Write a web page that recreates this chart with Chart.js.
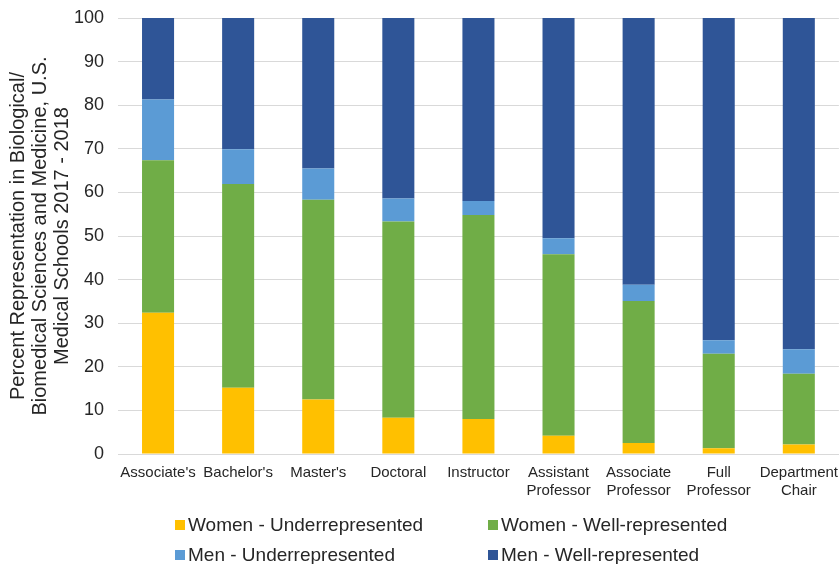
<!DOCTYPE html>
<html>
<head>
<meta charset="utf-8">
<script src="https://cdn.jsdelivr.net/npm/chart.js@4"></script>
<style>
  html, body { margin: 0; padding: 0; background: #fff; }
  #wrap { position: relative; width: 840px; height: 564px; overflow: hidden; }
  #legend { position: absolute; left: 175px; top: 514px; width: 640px; font-family: "Liberation Sans", Arial, sans-serif; font-size: 19px; color: #262626; }
  .item { position: absolute; display: flex; align-items: center; white-space: nowrap; }
  .box { width: 10px; height: 10px; margin-right: 3px; }
</style>
</head>
<body>
<div id="wrap">
  <canvas id="chart" width="840" height="564"></canvas>
  <div id="legend"></div>
</div>
<script>
const categories = [
  "Associate's", "Bachelor's", "Master's", "Doctoral", "Instructor",
  ["Assistant", "Professor"], ["Associate", "Professor"], ["Full", "Professor"], ["Department", "Chair"]
];
const seriesNames = ["Women - Underrepresented", "Women - Well-represented", "Men - Underrepresented", "Men - Well-represented"];
const womenUnder = [32.4, 15.2, 12.5, 8.3, 8.0, 4.2, 2.5, 1.3, 2.2];
const womenWell = [35.0, 46.7, 45.8, 45.0, 46.8, 41.6, 32.6, 21.7, 16.2];
const menUnder = [13.9, 8.0, 7.2, 5.3, 3.2, 3.7, 3.7, 3.1, 5.6];
const menWell = [18.7, 30.1, 34.5, 41.4, 42.0, 50.5, 61.2, 73.9, 76.0];
const colors = ["#FFC000", "#70AD47", "#5B9BD5", "#2F5597"];

const font = "'Liberation Sans', Arial, sans-serif";
const allSeries = [womenUnder, womenWell, menUnder, menWell];

new Chart(document.getElementById("chart"), {
  type: "bar",
  data: {
    labels: categories,
    datasets: allSeries.map((vals, i) => ({
      label: seriesNames[i],
      data: vals,
      backgroundColor: colors[i],
      borderWidth: 0,
      barPercentage: 0.4,
      categoryPercentage: 1.0
    }))
  },
  options: {
    responsive: false,
    animation: false,
    layout: { padding: { top: 18, right: 0, bottom: 64, left: 0 } },
    plugins: { legend: { display: false }, tooltip: { enabled: false } },
    scales: {
      x: {
        stacked: true,
        grid: { display: false },
        border: { display: true, color: "#d9d9d9", width: 1 },
        ticks: { color: "#262626", font: { family: font, size: 15, lineHeight: 1.2 }, maxRotation: 0, autoSkip: false, padding: 2 },
        afterFit: (axis) => { axis.height = 46; }
      },
      y: {
        stacked: true,
        min: 0,
        max: 100,
        ticks: { stepSize: 10, color: "#262626", font: { family: font, size: 18 }, padding: 14 },
        grid: { color: "#d9d9d9", lineWidth: 1, drawTicks: false },
        border: { display: false },
        title: {
          display: true,
          text: ["Percent Representation in Biological/", "Biomedical Sciences and Medicine, U.S.", "Medical Schools 2017 - 2018"],
          color: "#262626",
          font: { family: font, size: 20, lineHeight: 1.1 },
          padding: { top: 7, bottom: 0 }
        },
        afterFit: (axis) => {
          axis.width = 118;
          axis.paddingTop = 0;
          axis.paddingBottom = 0;
        }
      }
    }
  }
});

// legend in two fixed columns like the original
const legend = document.getElementById("legend");
seriesNames.forEach((name, i) => {
  const item = document.createElement("div");
  item.className = "item";
  item.style.left = (i % 2 === 0 ? 0 : 313) + "px";
  item.style.top = (i < 2 ? 0 : 30) + "px";
  item.innerHTML = `<span class="box" style="background:${colors[i]}"></span><span>${name}</span>`;
  legend.appendChild(item);
});
</script>
</body>
</html>
